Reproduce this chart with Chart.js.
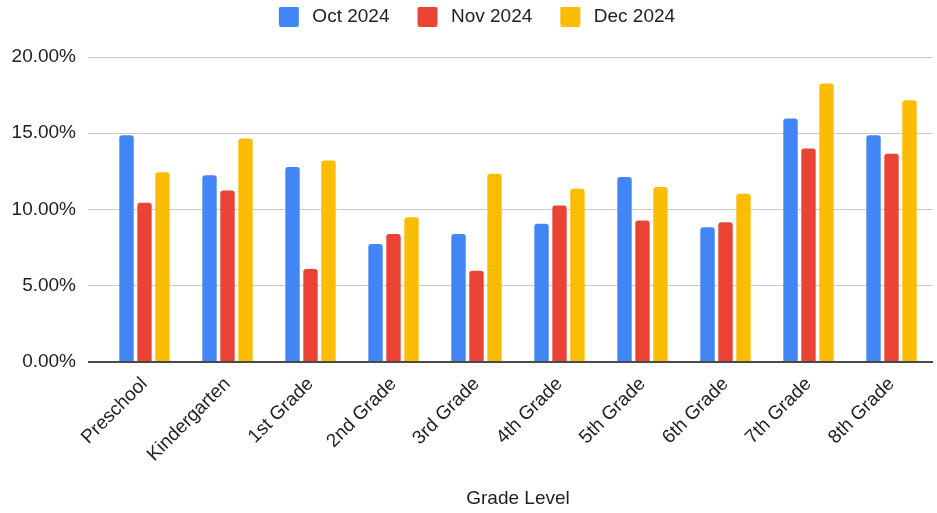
<!DOCTYPE html>
<html>
<head>
<meta charset="utf-8">
<script src="https://cdn.jsdelivr.net/npm/chart.js@4/dist/chart.umd.min.js"></script>
<style>
  html, body { margin: 0; padding: 0; background: #fff; }
  #wrap { width: 937px; height: 513px; }
</style>
</head>
<body>
<div id="wrap"><canvas id="c" width="937" height="513"></canvas></div>
<script>
const categories = ['Preschool', 'Kindergarten', '1st Grade', '2nd Grade', '3rd Grade', '4th Grade', '5th Grade', '6th Grade', '7th Grade', '8th Grade'];
const seriesNames = ['Oct 2024', 'Nov 2024', 'Dec 2024'];
const octValues = [14.87, 12.24, 12.78, 7.74, 8.40, 9.06, 12.13, 8.84, 15.97, 14.87];
const novValues = [10.44, 11.25, 6.10, 8.40, 5.99, 10.26, 9.28, 9.17, 14.00, 13.66];
const decValues = [12.45, 14.65, 13.22, 9.50, 12.35, 11.36, 11.47, 11.03, 18.27, 17.17];
const yTicks = [0, 5, 10, 15, 20];
const colors = ['#4285F4', '#EA4335', '#FBBC04'];

const FONT = '"Liberation Sans", Arial, Helvetica, sans-serif';
const TEXT = '#222222';

function legendSwatch(color) {
  const cv = document.createElement('canvas');
  cv.width = 45; cv.height = 20;
  const g = cv.getContext('2d');
  g.fillStyle = color;
  const x = 21, y = 0, w = 20, h = 20, r = 2;
  g.beginPath();
  g.moveTo(x + r, y);
  g.lineTo(x + w - r, y); g.quadraticCurveTo(x + w, y, x + w, y + r);
  g.lineTo(x + w, y + h - r); g.quadraticCurveTo(x + w, y + h, x + w - r, y + h);
  g.lineTo(x + r, y + h); g.quadraticCurveTo(x, y + h, x, y + h - r);
  g.lineTo(x, y + r); g.quadraticCurveTo(x, y, x + r, y);
  g.closePath(); g.fill();
  return cv;
}
const swatches = colors.map(legendSwatch);

const datasets = [octValues, novValues, decValues].map((vals, i) => ({
  label: seriesNames[i],
  data: vals,
  backgroundColor: colors[i],
  borderRadius: 3,
  borderSkipped: 'start',
  barPercentage: 0.8,
  categoryPercentage: 0.65
}));

new Chart(document.getElementById('c'), {
  type: 'bar',
  data: { labels: categories, datasets },
  options: {
    responsive: false,
    animation: false,
    devicePixelRatio: 1,
    layout: { padding: { left: 0, right: 4, top: 0, bottom: 0 } },
    plugins: {
      tooltip: { enabled: false },
      legend: {
        position: 'top',
        labels: {
          usePointStyle: true,
          pointStyleWidth: 45,
          boxHeight: 20,
          padding: 7,
          color: TEXT,
          font: { family: FONT, size: 19 },
          generateLabels(chart) {
            const items = Chart.defaults.plugins.legend.labels.generateLabels(chart);
            items.forEach((it, i) => { it.pointStyle = swatches[i]; it.lineWidth = 0; });
            return items;
          }
        }
      }
    },
    scales: {
      x: {
        grid: { display: false },
        border: { display: false },
        ticks: {
          color: TEXT,
          font: { family: FONT, size: 19 },
          minRotation: 45,
          maxRotation: 45,
          padding: 3
        },
        title: {
          display: true,
          text: 'Grade Level',
          color: TEXT,
          font: { family: FONT, size: 19 },
          padding: { top: 4, bottom: 3 }
        },
        afterFit(s) { s.height = 151; }
      },
      xTop: {
        position: 'top',
        display: true,
        grid: { display: false },
        border: { display: false },
        ticks: { display: false },
        afterFit(s) { s.height = 21; }
      },
      y: {
        min: 0,
        max: 20,
        afterBuildTicks(s) { s.ticks = yTicks.map(v => ({ value: v })); },
        grid: {
          color: c => (c.tick && c.tick.value === 0) ? '#4a4a4a' : '#cccccc',
          lineWidth: c => (c.tick && c.tick.value === 0) ? 2 : 1,
          drawTicks: true,
          tickLength: 15
        },
        border: { display: false },
        ticks: {
          color: TEXT,
          font: { family: FONT, size: 19 },
          padding: 12,
          callback: v => Number(v).toFixed(2) + '%'
        },
        afterFit(s) { s.width = 103; }
      }
    }
  }
});
</script>
</body>
</html>
